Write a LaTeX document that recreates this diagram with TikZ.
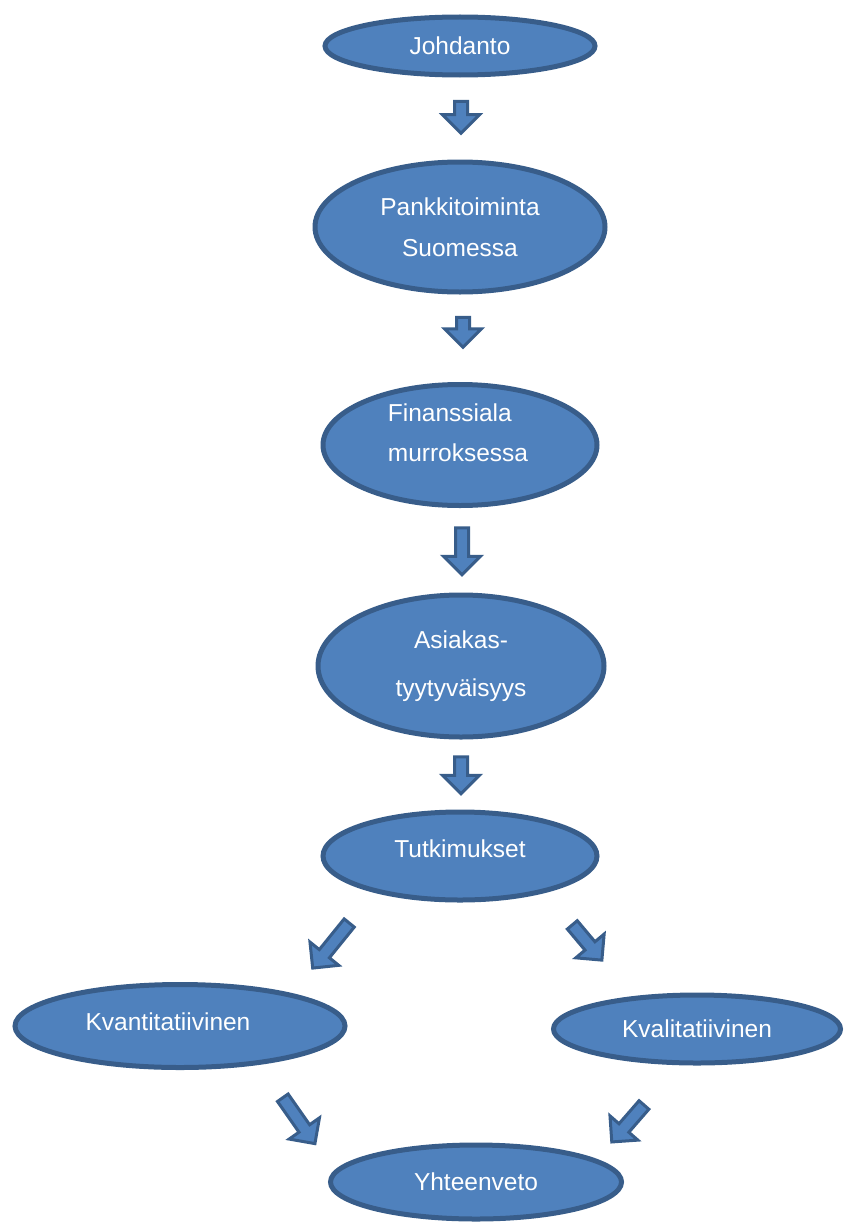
\documentclass[tikz,border=0pt]{standalone}
\usepackage{fontspec}
\setmainfont{Liberation Sans}
\usetikzlibrary{shapes.geometric,shapes.arrows}
\definecolor{boxfill}{HTML}{4F81BD}
\definecolor{boxline}{HTML}{385D8A}
\begin{document}
\begin{tikzpicture}[x=1pt,y=1pt,
  flowbox/.style={ellipse,draw=boxline,fill=boxfill,line width=5pt,text=white,
    font=\fontsize{24.5}{29}\selectfont,align=center,inner sep=0pt},
  boxtext/.style={text=white,font=\fontsize{24.5}{29}\selectfont,inner sep=0pt},
  blockarrow/.style={single arrow,draw=boxline,fill=boxfill,line width=3pt,
    inner sep=5pt,single arrow head extend=12pt,minimum height=#1},
  blockarrow/.default=40pt]
\useasboundingbox (0,0) rectangle (843,-1223);
% the ellipses
\node[flowbox,minimum width=270pt,minimum height=58pt] (johd) at (460,-46) {Johdanto};
\node[flowbox,minimum width=290pt,minimum height=130pt] (pank) at (460,-227) {Pankkitoiminta\\[12pt] Suomessa};
\node[flowbox,minimum width=274pt,minimum height=121pt,
  label={[boxtext,align=left,yshift=12pt,xshift=-2pt]center:Finanssiala\\[11pt] murroksessa}] (fina) at (460,-445) {};
\node[flowbox,minimum width=286pt,minimum height=142pt] (asia) at (461,-666) {Asiakas-\\[19pt] tyytyväisyys};
\node[flowbox,minimum width=274pt,minimum height=88pt,
  label={[boxtext,yshift=7pt]center:Tutkimukset}] (tutk) at (460,-856) {};
\node[flowbox,minimum width=330pt,minimum height=83pt,
  label={[boxtext,xshift=-12pt,yshift=4pt]center:Kvantitatiivinen}] (kvan) at (180,-1026) {};
\node[flowbox,minimum width=287pt,minimum height=68pt] (kval) at (697,-1029) {Kvalitatiivinen};
\node[flowbox,minimum width=291pt,minimum height=74pt] (yhte) at (476,-1182) {Yhteenveto};
% block arrows between them
\node[blockarrow=32pt,rotate=-90] (a1) at (461,-114) {};
\node[blockarrow=30pt,rotate=-90] (a2) at (463,-329) {};
\node[blockarrow=47pt,rotate=-90] (a3) at (462,-548) {};
\node[blockarrow=37pt,rotate=-90] (a4) at (461,-772) {};
\node[blockarrow=58pt,rotate=-129] (a5) at (333,-943) {};
\node[blockarrow=46pt,rotate=-50] (a6) at (585,-940) {};
\node[blockarrow=56pt,rotate=-55] (a7) at (297,-1118) {};
\node[blockarrow=49pt,rotate=-131] (a8) at (630,-1121) {};
\end{tikzpicture}
\end{document}
